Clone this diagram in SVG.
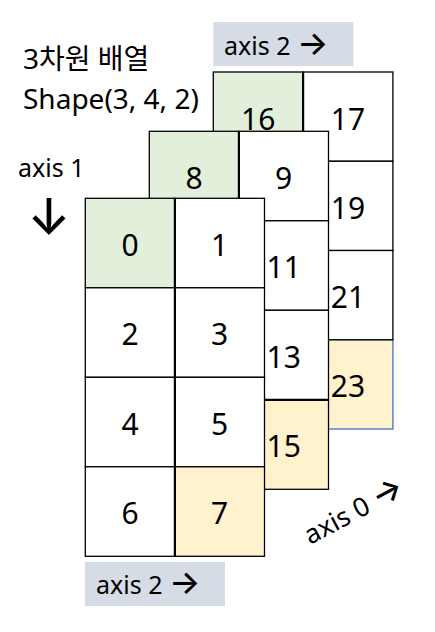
<svg xmlns="http://www.w3.org/2000/svg" width="435" height="632" viewBox="0 0 435 632">
<style>
.c{stroke:#000;stroke-width:1.3;fill:#fff}
.g{fill:#E2EFDA}
.y{fill:#FFF2CC}
.b{stroke:#4472C4}
.d{stroke:#000;stroke-width:2.2}
.n{font-family:"Noto Sans","Open Sans",sans-serif;font-size:30px;fill:#000;text-anchor:middle}
.l{font-family:"Noto Sans","Noto Sans CJK KR",sans-serif;font-size:25px;fill:#000}
.t{font-family:"Noto Sans","Noto Sans CJK KR",sans-serif;font-size:28px;fill:#000}
.k{font-family:Inter,"Noto Sans CJK KR",sans-serif;font-weight:500;font-size:33px}
.box{fill:#D6DCE5}
</style>
<rect width="435" height="632" fill="#fff"/>
<g id="title">
<text class="t" x="23" y="69">3차원 배열</text>
<text class="t" x="23" y="108.5">Shape(3, 4, 2)</text>
</g>
<g id="axis2-top">
<rect class="box" x="213.5" y="22" width="140" height="44"/>
<text class="l" x="224" y="55">axis 2 <tspan class="k">→</tspan></text>
</g>
<g id="axis1">
<text class="l" x="18" y="176.5">axis 1</text>
<text class="l k" x="49" y="234" style="font-size:50px;text-anchor:middle">↓</text>
</g>
<g id="layer2">
<rect class="c y b" x="303.1" y="339.75" width="89.8" height="89.25"/>
<g id="cell-16"><rect class="c g" x="213.3" y="72" width="89.8" height="89.25"/><text class="n" x="258.2" y="129.5">16</text></g>
<g id="cell-17"><rect class="c" x="303.1" y="72" width="89.8" height="89.25"/><text class="n" x="348" y="129.5">17</text></g>
<g id="cell-19"><rect class="c" x="303.1" y="161.25" width="89.8" height="89.25"/><text class="n" x="348" y="218.75">19</text></g>
<g id="cell-21"><rect class="c" x="303.1" y="250.5" width="89.8" height="89.25"/><text class="n" x="348" y="308">21</text></g>
<g id="cell-23"><text class="n" x="348" y="397.25">23</text></g>
<line class="d" x1="303.1" y1="72" x2="303.1" y2="161"/>
</g>
<g id="layer1">
<g id="cell-8"><rect class="c g" x="149.3" y="131.3" width="89.6" height="89.5"/><text class="n" x="194.1" y="188.8">8</text></g>
<g id="cell-9"><rect class="c" x="238.9" y="131.3" width="89.6" height="89.5"/><text class="n" x="283.7" y="188.8">9</text></g>
<g id="cell-11"><rect class="c" x="238.9" y="220.8" width="89.6" height="89.5"/><text class="n" x="283.7" y="278.3">11</text></g>
<g id="cell-13"><rect class="c" x="238.9" y="310.3" width="89.6" height="89.5"/><text class="n" x="283.7" y="367.8">13</text></g>
<g id="cell-15"><rect class="c y" x="238.9" y="399.8" width="89.6" height="89.5"/><text class="n" x="283.7" y="457.3">15</text></g>
<line class="d" x1="238.9" y1="131.3" x2="238.9" y2="220.8"/>
<line class="d" x1="238.9" y1="399.8" x2="328.5" y2="399.8"/>
</g>
<g id="layer0">
<g id="cell-0"><rect class="c g" x="85.3" y="198.3" width="89.6" height="89.5"/><text class="n" x="130.1" y="255.8">0</text></g>
<g id="cell-1"><rect class="c" x="174.9" y="198.3" width="89.6" height="89.5"/><text class="n" x="219.7" y="255.8">1</text></g>
<g id="cell-2"><rect class="c" x="85.3" y="287.8" width="89.6" height="89.5"/><text class="n" x="130.1" y="345.3">2</text></g>
<g id="cell-3"><rect class="c" x="174.9" y="287.8" width="89.6" height="89.5"/><text class="n" x="219.7" y="345.3">3</text></g>
<g id="cell-4"><rect class="c" x="85.3" y="377.3" width="89.6" height="89.5"/><text class="n" x="130.1" y="434.8">4</text></g>
<g id="cell-5"><rect class="c" x="174.9" y="377.3" width="89.6" height="89.5"/><text class="n" x="219.7" y="434.8">5</text></g>
<g id="cell-6"><rect class="c" x="85.3" y="466.8" width="89.6" height="89.5"/><text class="n" x="130.1" y="524.3">6</text></g>
<g id="cell-7"><rect class="c y" x="174.9" y="466.8" width="89.6" height="89.5"/><text class="n" x="219.7" y="524.3">7</text></g>
<line class="d" x1="174.9" y1="198.3" x2="174.9" y2="556.3"/>
</g>
<g id="axis2-bottom">
<rect class="box" x="85" y="562" width="140" height="44"/>
<text class="l" x="96" y="594">axis 2 <tspan class="k">→</tspan></text>
</g>
<g id="axis0">
<text class="l" transform="translate(310 545) rotate(-28)" style="font-size:26.5px">axis 0 <tspan class="k">→</tspan></text>
</g>
</svg>
